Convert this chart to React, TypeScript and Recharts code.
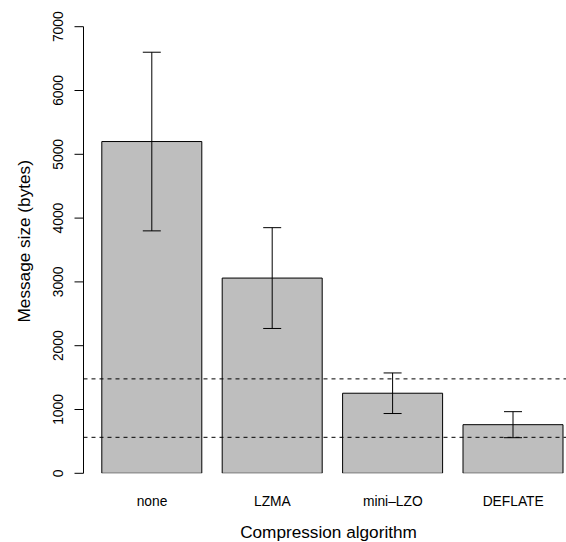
import React from 'react';
import { BarChart, Bar, XAxis, YAxis, ErrorBar, ReferenceLine } from 'recharts';

const algorithms = ['none', 'LZMA', 'mini\u2013LZO', 'DEFLATE'];
const meanSize = [5200, 3060, 1255, 762];
const lowSize = [3800, 2270, 937, 558];
const highSize = [6600, 3850, 1573, 966];
const yTicks = [0, 1000, 2000, 3000, 4000, 5000, 6000, 7000];
const thresholds = [1480, 564];

const FONT = '"Liberation Sans", Arial, Helvetica, sans-serif';

// error bar wants [below, above] deltas
const data = algorithms.map((name, i) => ({
  name,
  size: meanSize[i],
  err: [meanSize[i] - lowSize[i], highSize[i] - meanSize[i]],
}));

const XTick = (props: any) => {
  const { x, y, payload } = props;
  return (
    <text x={x} y={y} dy={32.7} textAnchor="middle" fontSize={13.8} fontFamily={FONT} fill="#000">
      {payload.value}
    </text>
  );
};

const YTick = (props: any) => {
  const { x, y, payload } = props;
  return (
    <text
      x={x}
      y={y}
      transform={`rotate(-90, ${x}, ${y})`}
      textAnchor="middle"
      fontSize={13.8}
      fontFamily={FONT}
      fill="#000"
    >
      {payload.value}
    </text>
  );
};

export default function App() {
  return (
    <div style={{ position: 'absolute', left: 0, top: 0, width: 566, height: 542, overflow: 'hidden', background: '#fff' }}>
      <BarChart
        width={600}
        height={542}
        data={data}
        margin={{ top: 26.7, right: 18.2, bottom: 38.7, left: 0 }}
      >
        <XAxis
          dataKey="name"
          height={30}
          axisLine={false}
          tickLine={false}
          tickSize={0}
          tickMargin={0}
          padding={{ left: 8.3, right: 8.4 }}
          tick={<XTick />}
          interval={0}
        />
        <YAxis
          width={83.5}
          domain={[0, 7000]}
          ticks={yTicks}
          interval={0}
          allowDataOverflow
          axisLine={{ stroke: '#000' }}
          tickLine={{ stroke: '#000' }}
          tickSize={9}
          tickMargin={11.8}
          tick={<YTick />}
        />
        <Bar dataKey="size" barSize={100} fill="#bebebe" stroke="#000" strokeWidth={1} isAnimationActive={false}>
          <ErrorBar dataKey="err" width={9} stroke="#000" strokeWidth={1} />
        </Bar>
        {thresholds.map((t) => (
          <ReferenceLine key={t} y={t} stroke="#000" strokeDasharray="4 4" />
        ))}
        <text x={29.7} y={241.3} transform="rotate(-90, 29.7, 241.3)" textAnchor="middle" fontSize={17.2} fontFamily={FONT} fill="#000">
          Message size (bytes)
        </text>
        <text x={328.5} y={538.3} textAnchor="middle" fontSize={17.2} fontFamily={FONT} fill="#000">
          Compression algorithm
        </text>
      </BarChart>
    </div>
  );
}
